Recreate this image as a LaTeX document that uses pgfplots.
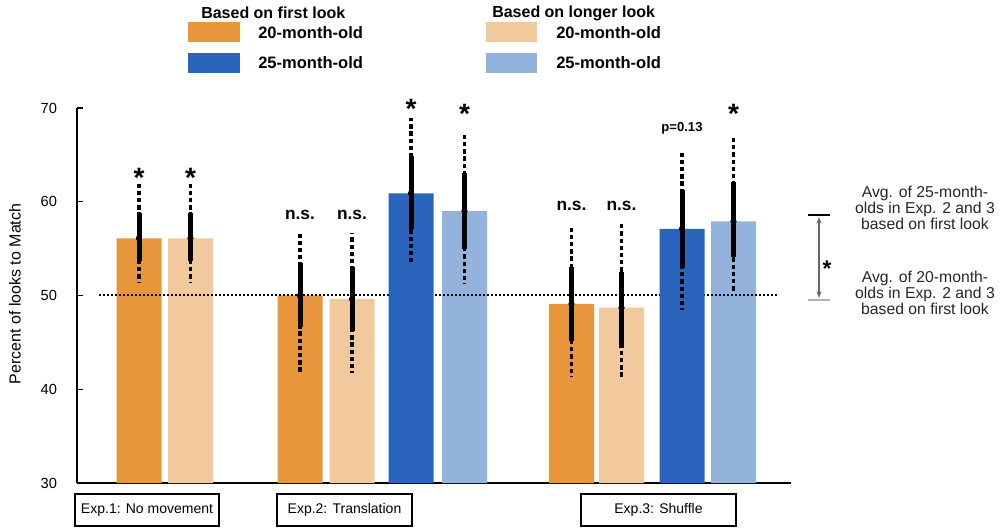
\documentclass[border=0pt]{standalone}
\usepackage{fontspec}
\setmainfont{Liberation Sans}
\usepackage{pgfplots}
\pgfplotsset{compat=1.18}
\usetikzlibrary{arrows.meta}
\definecolor{org}{HTML}{E8963C}
\definecolor{lorg}{HTML}{F2C99C}
\definecolor{blu}{HTML}{2A64BC}
\definecolor{lblu}{HTML}{94B3DC}
\newcommand{\fs}[2]{\fontsize{#1}{#2}\selectfont}

\begin{document}
\begin{tikzpicture}[
    ns/.style={font=\bfseries\fs{13pt}{13pt}},
    sigstar/.style={font=\bfseries\fs{21pt}{21pt}, yshift=-4.5pt}]
  \begin{axis}[
      at={(57.75pt,33.75pt)}, anchor=south west,
      scale only axis, width=535.5pt, height=281.25pt,
      xmin=77, xmax=791, ymin=30, ymax=70,
      axis x line=bottom, axis y line=left,
      axis line style={-, line width=1.2pt},
      xtick=\empty, ytick={30,40,50,60,70},
      tick align=inside, major tick length=4.5pt,
      tick style={line width=0.8pt, black},
      /pgf/number format/assume math mode=true,
      yticklabel style={font=\fs{11pt}{12pt}, xshift=-11.5pt},
      ylabel={Percent of looks to Match},
      ylabel style={at={(axis description cs:-0.0868,0.504)}, anchor=center, font=\fs{12pt}{14pt}},
      clip mode=individual,
      bars/.style={ybar, bar width=45, bar shift=0pt, draw=none},
    ]

    % bars, blue first-look drawn last (hides the chance line)
    \addplot[bars, fill=org]  coordinates {(139,56.1) (300,50.0) (571.5,49.1)};
    \addplot[bars, fill=lorg] coordinates {(190.5,56.1) (352,49.6) (621.5,48.7)};
    \addplot[bars, fill=lblu] coordinates {(464.5,59.0) (733.5,57.9)};

    % chance level
    \addplot[black, line width=1.5pt, dash pattern=on 1.5pt off 1.5pt] coordinates {(99,50) (779,50)};

    \addplot[bars, fill=blu]  coordinates {(411,60.9) (682,57.1)};

    % long (dashed) error bars
    \addplot[black, only marks, mark=none,
      error bars/.cd, y dir=both, y explicit, error mark=none,
      error bar style={line width=2.3pt, dash pattern=on 3.2pt off 2.2pt}]
      coordinates {
        (139,56.1)   += (0,5.9) -= (0,4.8)
        (190.5,56.1) += (0,5.9) -= (0,4.8)
        (300,50.0)   += (0,6.7) -= (0,8.2)
        (352,49.6)   += (0,7.1) -= (0,7.9)
        (411,60.9)   += (0,8.0) -= (0,7.6)
        (464.5,59.0) += (0,8.1) -= (0,7.7)
        (571.5,49.1) += (0,8.1) -= (0,7.8)
        (621.5,48.7) += (0,9.2) -= (0,7.4)
        (682,57.1)   += (0,8.1) -= (0,8.6)
        (733.5,57.9) += (0,9.0) -= (0,7.6)
      };

    % short (solid) error bars
    \addplot[black, only marks, mark=none,
      error bars/.cd, y dir=both, y explicit, error mark=none,
      error bar style={line width=3.75pt}]
      coordinates {
        (139,56.1)   += (0,2.7) -= (0,2.4)
        (190.5,56.1) += (0,2.7) -= (0,2.4)
        (300,50.0)   += (0,3.5) -= (0,3.4)
        (352,49.6)   += (0,3.4) -= (0,3.4)
        (411,60.9)   += (0,4.0) -= (0,3.8)
        (464.5,59.0) += (0,4.1) -= (0,4.0)
        (571.5,49.1) += (0,3.9) -= (0,4.0)
        (621.5,48.7) += (0,3.8) -= (0,4.3)
        (682,57.1)   += (0,4.2) -= (0,4.2)
        (733.5,57.9) += (0,4.2) -= (0,3.8)
      };

    % significance marks
    \node[sigstar] at (axis cs:139,63.2) {*};
    \node[sigstar] at (axis cs:190.5,63.2) {*};
    \node[sigstar] at (axis cs:411,70.6) {*};
    \node[sigstar] at (axis cs:464.5,70.0) {*};
    \node[sigstar] at (axis cs:733.5,70.0) {*};
    \node[ns] at (axis cs:300,58.6) {n.s.};
    \node[ns] at (axis cs:352,58.6) {n.s.};
    \node[ns] at (axis cs:571.5,59.6) {n.s.};
    \node[ns] at (axis cs:621.5,59.6) {n.s.};
    \node[font=\bfseries\fs{9.8pt}{10pt}] at (axis cs:682,67.8) {p=0.13};
  \end{axis}

  \begin{scope}[x=0.75pt, y=-0.75pt, yshift=396pt]
  % legend
  \node[anchor=west, font=\bfseries\fs{12pt}{12pt}, inner sep=0] at (201,13) {Based on first look};
  \node[anchor=west, font=\bfseries\fs{12pt}{12pt}, inner sep=0] at (492,13) {Based on longer look};
  \fill[org]  (188,22) rectangle (240,42);
  \fill[blu]  (188,53) rectangle (240,73);
  \fill[lorg] (486,22) rectangle (537,42);
  \fill[lblu] (486,53) rectangle (537,73);
  \node[anchor=west, font=\bfseries\fs{12.4pt}{12pt}, inner sep=0] at (258,33) {20-month-old};
  \node[anchor=west, font=\bfseries\fs{12.4pt}{12pt}, inner sep=0] at (258,63) {25-month-old};
  \node[anchor=west, font=\bfseries\fs{12.4pt}{12pt}, inner sep=0] at (556,33) {20-month-old};
  \node[anchor=west, font=\bfseries\fs{12.4pt}{12pt}, inner sep=0] at (556,63) {25-month-old};

  % experiment boxes
  \draw[line width=1.4pt] (75,494) rectangle (219,526);
  \node[font=\fs{10.5pt}{12pt}] at (147,510) {Exp.1: No movement};
  \draw[line width=1.4pt] (277,494) rectangle (412,526);
  \node[font=\fs{10.5pt}{12pt}] at (344.5,510) {Exp.2: Translation};
  \draw[line width=1.4pt] (581,494) rectangle (736,526);
  \node[font=\fs{10.5pt}{12pt}] at (658.5,510) {Exp.3: Shuffle};

  % comparison of averages
  \draw[black, line width=1.5pt] (808,215) -- (830,215);
  \draw[gray!60, line width=1.5pt] (808,300) -- (830,300);
  \draw[gray!80!black, line width=0.8pt, {Stealth[length=5pt]}-{Stealth[length=5pt]}] (819,217) -- (819,298);
  \node[font=\bfseries\fs{17pt}{17pt}, yshift=-3.5pt] at (827,264) {*};
  \node[align=center, font=\fs{11.8pt}{12pt}, text=black!85] at (925,208)
    {Avg. of 25-month-\\olds in Exp. 2 and 3\\based on first look};
  \node[align=center, font=\fs{11.8pt}{12pt}, text=black!85] at (925,293)
    {Avg. of 20-month-\\olds in Exp. 2 and 3\\based on first look};

  \pgfresetboundingbox
  \path (0,0) rectangle (1002,528);
  \end{scope}
\end{tikzpicture}
\end{document}
